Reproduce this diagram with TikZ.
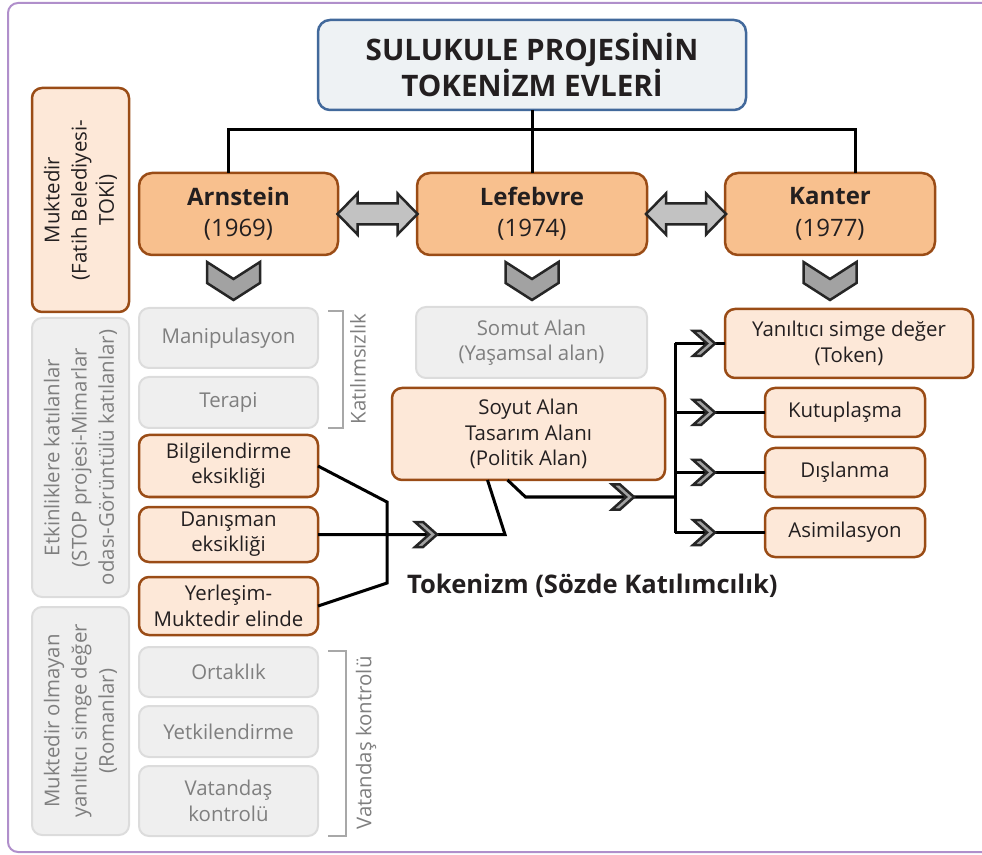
\documentclass[tikz,border=0pt]{standalone}
\usepackage{fontspec}
\setmainfont{Open Sans}
\usepackage{tikz}
\usetikzlibrary{positioning,calc}
\newlength\ux
\setlength\ux{0.75pt}
\definecolor{ink}{HTML}{231F20}
\definecolor{headfill}{HTML}{F8C08E}
\definecolor{leaffill}{HTML}{FDE8D8}
\definecolor{brownline}{HTML}{9A4C16}
\definecolor{mutedfill}{HTML}{EFEFEF}
\definecolor{mutedline}{HTML}{DCDCDC}
\definecolor{mutedtext}{HTML}{7F7F7F}
\definecolor{braceline}{HTML}{A8A8A8}
\definecolor{titlefill}{HTML}{EEF2F4}
\definecolor{titleline}{HTML}{42699B}
\definecolor{chevfill}{HTML}{A2A2A2}
\definecolor{twowayfill}{HTML}{C2C2C2}
\definecolor{chevline}{HTML}{262626}
\definecolor{framecol}{HTML}{B08FCB}

\begin{document}
\begin{tikzpicture}[x=0.75pt,y=-0.75pt,
    every node/.style={inner sep=0pt,outer sep=0pt,align=center,text=ink,
      font=\fontsize{15.3}{19}\selectfont},
    title/.style={draw=titleline,fill=titlefill,line width=2.5\ux,rounded corners=12\ux,
      minimum width=428\ux,minimum height=90\ux,font=\bfseries\fontsize{22.2}{27}\selectfont},
    head/.style={draw=brownline,fill=headfill,line width=2.5\ux,rounded corners=13\ux,
      minimum height=82\ux,minimum width=#1,font=\fontsize{18}{23.5}\selectfont},
    leaf/.style={draw=brownline,fill=leaffill,line width=2.5\ux,rounded corners=10\ux},
    muted/.style={draw=mutedline,fill=mutedfill,line width=2\ux,rounded corners=10\ux,
      text=mutedtext},
    side/.style={rotate=90,minimum width=#1,minimum height=97\ux,
      font=\fontsize{15.3}{20.5}\selectfont},
    mid/.style={minimum width=179\ux,minimum height=#1},
    wire/.style={line width=3\ux},
    brace/.style={draw=braceline,line width=1.5\ux},
    chev/.style={draw=chevline,fill=chevfill,line width=2.5\ux},
    chevdown/.pic={\draw[chev] (-26.5,0) -- (0,17) -- (26.5,0) -- (26.5,21)
      -- (0,38) -- (-26.5,21) -- cycle;},
    chevright/.pic={\draw[chev] (0,-12.5) -- (8,-12.5) -- (22,0) -- (8,12.5)
      -- (0,12.5) -- (14,0) -- cycle;},
    twoway/.pic={\draw[chev,fill=twowayfill] (-40,0) -- (-20,-20.5) -- (-20,-10.5)
      -- (20,-10.5) -- (20,-20.5) -- (40,0) -- (20,20.5) -- (20,10.5)
      -- (-20,10.5) -- (-20,20.5) -- cycle;}]
  \useasboundingbox (0,0) rectangle (982,855);
  \clip (0,0) rectangle (982,855);
  \draw[framecol,line width=2\ux,rounded corners=10\ux] (8,3) rectangle (1010,852);

  % top
  \node[title] (title) at (532,65) {SULUKULE PROJESİNİN\\TOKENİZM EVLERİ};
  \node[head=199\ux] (arn) at (238.5,214) {\textbf{Arnstein}\\(1969)};
  \node[head=230\ux] (lef) at (532,214) {\textbf{Lefebvre}\\(1974)};
  \node[head=210\ux] (kan) at (830,214) {\textbf{Kanter}\\(1977)};

  % left column
  \node[side=224\ux,leaf] (muk) at (80.5,200) {Muktedir\\(Fatih Belediyesi-\\TOKİ)};
  \node[side=279\ux,muted] (etk) at (80.5,457.5)
    {Etkinliklere katılanlar\\(STOP projesi-Mimarlar\\odası-Görüntülü katılanlar)};
  \node[side=228\ux,muted] (rom) at (80.5,721)
    {Muktedir olmayan\\yanıltıcı simge değer\\(Romanlar)};

  % Arnstein
  \node[mid=60\ux,muted] (mani) at (228.5,338) {Manipulasyon};
  \node[mid=51\ux,muted] (ter) [below=6.75pt of mani] {Terapi};
  \node[mid=62\ux,leaf] (bil) [below=5.25pt of ter] {Bilgilendirme\\eksikliği};
  \node[mid=55\ux,leaf] (dan) [below=7.5pt of bil] {Danışman\\eksikliği};
  \node[mid=58\ux,leaf] (yer) [below=11.25pt of dan] {Yerleşim-\\Muktedir elinde};
  \node[mid=50\ux,muted] (ort) [below=9pt of yer] {Ortaklık};
  \node[mid=51\ux,muted] (yet) [below=6.75pt of ort] {Yetkilendirme};
  \node[mid=70\ux,muted] (vat) [below=6.75pt of yet] {Vatandaş\\kontrolü};

  % Lefebvre
  \node[muted,minimum width=231\ux,minimum height=71\ux] (somut) at (531.5,342.5)
    {Somut Alan\\(Yaşamsal alan)};
  \node[leaf,minimum width=273\ux,minimum height=92\ux] (soyut) at (528.5,434)
    {Soyut Alan\\Tasarım Alanı\\(Politik Alan)};

  % Kanter
  \node[leaf,minimum width=248\ux,minimum height=69\ux] (tok) at (849,343.5)
    {Yanıltıcı simge değer\\(Token)};
  \node[leaf,minimum width=160\ux,minimum height=49\ux] (kut) at (845,412.5) {Kutuplaşma};
  \node[leaf,minimum width=160\ux,minimum height=49\ux] (dis) [below=8.25pt of kut] {Dışlanma};
  \node[leaf,minimum width=160\ux,minimum height=49\ux] (asi) [below=8.25pt of dis] {Asimilasyon};

  \node[anchor=base west,font=\bfseries\fontsize{19.2}{22}\selectfont] (tokenizm)
    at (407,593) {Tokenizm (Sözde Katılımcılık)};

  % brackets
  \draw[brace] (328,311) -| (343,428) -- (328,428);
  \node[rotate=90,text=mutedtext] (kat) at (358,369) {Katılımsızlık};
  \draw[brace] (328,651) -| (346,836) -- (328,836);
  \node[rotate=90,text=mutedtext] (vk) at (366,743) {Vatandaş kontrolü};

  % connectors
  \coordinate (bar) at (532,130);
  \draw[wire] (title.south) -- (lef.north);
  \draw[wire] ([xshift=-10.5\ux]arn.north) |- (bar) -| ([xshift=25\ux]kan.north);

  \coordinate (j1) at (387,502);
  \coordinate (j2) at (387,583);
  \coordinate (j3) at (505,537);
  \coordinate (hub) at (675,497);
  \draw[wire] (bil.east) -- (j1) -- (j2) -- (yer.east);
  \draw[wire] (dan.east) -- (dan.east -| j3) -- ([xshift=-41\ux]soyut.south);
  \draw[wire] ([xshift=-21\ux]soyut.south) -- ++(18,17) -- (hub);
  \draw[wire] (tok.west -| hub) -- (asi.west -| hub);
  \foreach \n in {tok,kut,dis,asi}
    \draw[wire] (\n.west -| hub) -- (\n.west);

  % chevrons
  \pic at ($(arn.east)!0.5!(lef.west)$) {twoway};
  \pic at ($(lef.east)!0.5!(kan.west)$) {twoway};
  \pic at (233.5,262) {chevdown};
  \pic at (532,262) {chevdown};
  \pic at (830,262) {chevdown};
  \pic at (dan.east -| 415,0) {chevright};
  \pic at (612,497) {chevright};
  \foreach \n in {tok,kut,dis,asi}
    \pic at ([xshift=18\ux]\n.west -| hub) {chevright};
\end{tikzpicture}
\end{document}
